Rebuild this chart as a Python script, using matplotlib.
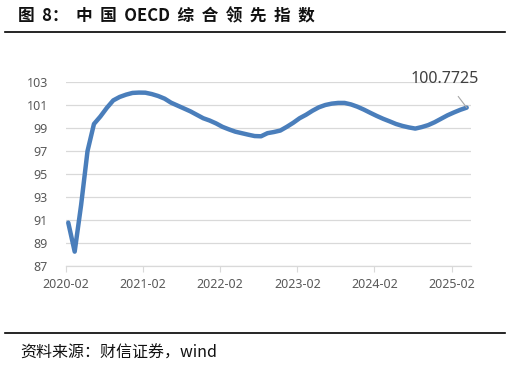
import numpy as np
import matplotlib
matplotlib.use("Agg")
import matplotlib.pyplot as plt
from matplotlib.lines import Line2D

plt.rcParams['font.family'] = ['Noto Sans', 'Noto Sans CJK SC', 'DejaVu Sans']

# OECD CLI for China, monthly from 2020-02
cli = [90.77, 88.25, 92.30, 97.00, 99.35, 100.00, 100.75, 101.40, 101.70, 101.90,
       102.05, 102.08, 102.07, 101.95, 101.78, 101.55, 101.20, 100.95, 100.70, 100.45,
       100.15, 99.85, 99.65, 99.40, 99.10, 98.88, 98.68, 98.55, 98.42, 98.30,
       98.28, 98.55, 98.65, 98.78, 99.10, 99.45, 99.85, 100.15, 100.50, 100.80,
       101.00, 101.12, 101.18, 101.18, 101.05, 100.85, 100.60, 100.32, 100.05, 99.80,
       99.58, 99.35, 99.18, 99.05, 98.95, 99.08, 99.25, 99.50, 99.80, 100.10,
       100.35, 100.58, 100.7725]
tick_labels = ['2020-02', '2021-02', '2022-02', '2023-02', '2024-02', '2025-02']
y_ticks = [87, 89, 91, 93, 95, 97, 99, 101, 103]

x = np.arange(len(cli))

fig = plt.figure(figsize=(5.11, 3.67), dpi=100)
ax = fig.add_axes([66/511, 1-266/367, 405/511, 184/367])

ax.plot(x, cli, color='#4a7ebb', lw=3.2, solid_capstyle='round', zorder=3)

ax.set_ylim(87, 103)
ax.set_yticks(y_ticks)
ax.set_xlim(-0.31, 62.67)
ax.set_xticks(np.arange(0, len(cli), 12) - 0.35)
ax.set_xticklabels(tick_labels)

ax.grid(axis='y', color='#d9d9d9', lw=0.9)
ax.set_axisbelow(True)
for s in ['top', 'right', 'left']:
    ax.spines[s].set_visible(False)
ax.spines['bottom'].set_color('#d9d9d9')
ax.spines['bottom'].set_linewidth(0.9)
ax.tick_params(axis='y', length=0, pad=13, labelsize=9, labelcolor='#595959')
ax.tick_params(axis='x', length=4, color='#d9d9d9', pad=5, labelsize=9, labelcolor='#595959')

# end value label
ax.annotate('100.7725', xy=(x[-1], cli[-1]), xytext=(445/511, 1-79/367),
            textcoords='figure fraction', ha='center', va='center',
            fontsize=11.5, color='#404040',
            arrowprops=dict(arrowstyle='-', color='#a6a6a6', lw=0.8,
                            shrinkA=6, shrinkB=0))

# title and source
fig.text(18/511, 1-16/367, '图  8：  中  国  OECD  综  合  领  先  指  数', fontsize=12,
         fontweight='bold', family=['Noto Sans CJK SC', 'DejaVu Sans'],
         ha='left', va='center', color='#111111')
fig.add_artist(Line2D([5/511, 505/511], [1-31.5/367, 1-31.5/367],
                      transform=fig.transFigure, color='black', lw=1.2))
fig.add_artist(Line2D([5/511, 505/511], [1-333/367, 1-333/367],
                      transform=fig.transFigure, color='black', lw=1.2))
fig.text(20/511, 1-353/367, '资料来源：财信证券，wind', fontsize=11.5,
         style='italic', family=['Noto Sans CJK SC', 'DejaVu Sans'],
         ha='left', va='center', color='#111111')

fig.savefig('out.png', dpi=100)
